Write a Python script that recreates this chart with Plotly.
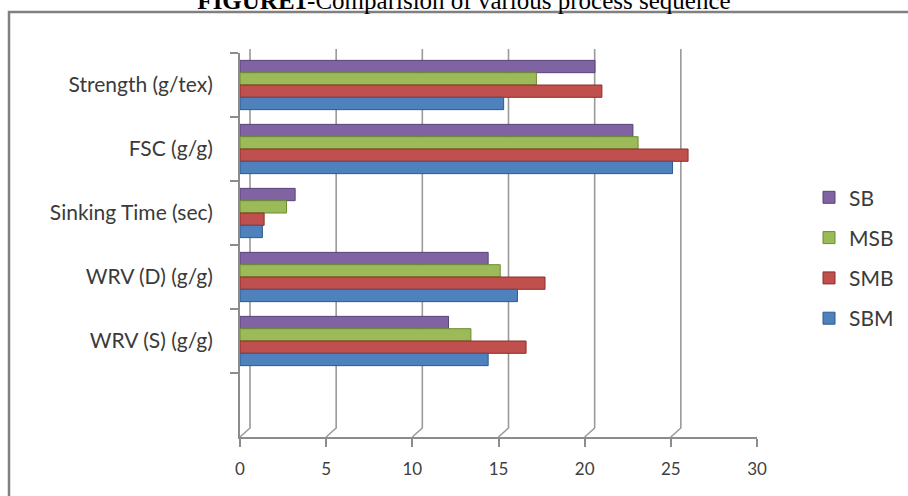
import plotly.graph_objects as go

# ---- data ----
categories = ["Strength (g/tex)", "FSC (g/g)", "Sinking Time (sec)", "WRV (D) (g/g)", "WRV (S) (g/g)", " "]
series_names = ["SB", "MSB", "SMB", "SBM"]
sb = [20.6, 22.8, 3.2, 14.4, 12.1]
msb = [17.2, 23.1, 2.7, 15.1, 13.4]
smb = [21.0, 26.0, 1.4, 17.7, 16.6]
sbm = [15.3, 25.1, 1.3, 16.1, 14.4]
x_ticks = [0, 5, 10, 15, 20, 25, 30]

series_values = [sb, msb, smb, sbm]
colors = ["#8064A2", "#9BBB59", "#C0504D", "#4F81BD"]
edge = ["#59437a", "#6f8c35", "#8c2f2c", "#2f5a8c"]

fig = go.Figure()
for name, vals, c, e in zip(series_names, series_values, colors, edge):
    fig.add_trace(go.Bar(
        y=categories[:len(vals)], x=vals, name=name, orientation="h",
        marker=dict(color=c, line=dict(color=e, width=1)),
        legendgroup=name,
    ))

# 3D-like back gridlines with slanted floor segments (pixel offsets)
shapes = []
for t in x_ticks:
    shapes.append(dict(
        type="path", xref="x", yref="paper",
        xsizemode="pixel", xanchor=t, ysizemode="pixel", yanchor=0,
        path="M 0 0 L 10 9 L 10 388",
        line=dict(color="#9a9a9a", width=1.6), layer="below",
    ))
# outer frame
shapes.append(dict(type="rect", xref="paper", yref="paper",
                   x0=-0.4468, x1=1.30, y0=-0.164, y1=1.1068,
                   line=dict(color="#808080", width=2.5), layer="below"))

fig.update_layout(
    width=908, height=496,
    margin=dict(l=240, r=151, t=53, b=59, autoexpand=False),
    paper_bgcolor="white", plot_bgcolor="white",
    barmode="group", bargap=0.23, bargroupgap=0,
    title=dict(text="<b>FIGURE1</b>-Comparision of various process sequence",
               font=dict(family="Liberation Serif", size=25, color="black"),
               x=0.511, xanchor="center", y=1.0, yanchor="middle"),
    xaxis=dict(range=[0, 30], tickvals=x_ticks, showgrid=False, zeroline=False,
               automargin=False,
               showline=True, linecolor="#8c8c8c", linewidth=2,
               ticks="outside", ticklen=8, tickcolor="#8c8c8c", tickwidth=2,
               ticklabelstandoff=8,
               tickfont=dict(family="Lato", size=17, color="#404040")),
    yaxis=dict(categoryorder="array", categoryarray=categories,
               range=[5.5, -0.5], showgrid=False, zeroline=False,
               automargin=False,
               showline=True, linecolor="#8c8c8c", linewidth=2,
               ticks="outside", ticklen=8, tickcolor="#8c8c8c", tickwidth=2,
               tickson="boundaries", ticklabelstandoff=21,
               tickfont=dict(family="Lato", size=21, color="#3a3a3a")),
    legend=dict(x=1.1006, y=0.6767, xanchor="left", yanchor="top",
                traceorder="grouped", tracegroupgap=10,
                font=dict(family="Lato", size=21, color="#3a3a3a"),
                bgcolor="rgba(0,0,0,0)"),
    shapes=shapes,
    showlegend=True,
)

fig.write_html(
    "out.html",
    config={"displayModeBar": False},
    post_script="document.documentElement.style.margin='0';document.body.style.margin='0';document.body.style.padding='0';",
)
